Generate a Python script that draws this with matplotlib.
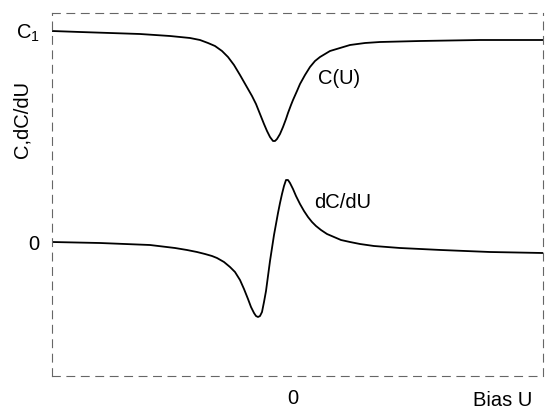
"""Capacitance C(U) and its derivative dC/dU versus bias voltage U."""
import matplotlib

matplotlib.use("Agg")
import matplotlib.pyplot as plt

# Bias U (arbitrary units) and C(U)
bias_c = [-2.41, -2.13, -1.83, -1.53, -1.23, -1.03, -0.93, -0.85, -0.78, -0.71,
          -0.65, -0.59, -0.53, -0.49, -0.45, -0.41, -0.37, -0.33, -0.29, -0.26,
          -0.23, -0.20, -0.18, -0.16, -0.13, -0.10, -0.07, -0.05, -0.02, 0.00,
          0.04, 0.07, 0.12, 0.17, 0.22, 0.27, 0.32, 0.37, 0.47, 0.57,
          0.72, 0.87, 1.27, 1.87, 2.50]
cap = [2.11, 2.10, 2.09, 2.08, 2.06, 2.04, 2.02, 1.99, 1.96, 1.91,
       1.85, 1.77, 1.67, 1.60, 1.53, 1.46, 1.38, 1.28, 1.18, 1.11,
       1.05, 1.01, 1.01, 1.03, 1.08, 1.15, 1.23, 1.29, 1.37, 1.42,
       1.51, 1.58, 1.67, 1.75, 1.81, 1.85, 1.88, 1.91, 1.94, 1.97,
       1.99, 2.00, 2.01, 2.02, 2.02]

# Bias U and dC/dU
bias_d = [-2.41, -1.93, -1.43, -1.18, -1.06, -0.96, -0.88, -0.81, -0.76, -0.69,
          -0.63, -0.58, -0.53, -0.49, -0.45, -0.42, -0.39, -0.37, -0.35, -0.33,
          -0.31, -0.29, -0.27, -0.25, -0.23, -0.21, -0.19, -0.17, -0.15, -0.13,
          -0.11, -0.09, -0.07, -0.05, -0.03, 0.00, 0.03, 0.07, 0.11, 0.15,
          0.19, 0.23, 0.28, 0.34, 0.41, 0.48, 0.57, 0.67, 0.81, 1.07,
          1.48, 1.97, 2.50]
dcap = [0.00, -0.01, -0.03, -0.06, -0.08, -0.10, -0.12, -0.14, -0.16, -0.20,
        -0.25, -0.30, -0.38, -0.47, -0.57, -0.65, -0.71, -0.74, -0.75, -0.74,
        -0.70, -0.60, -0.49, -0.34, -0.19, -0.06, 0.07, 0.18, 0.29, 0.39,
        0.48, 0.56, 0.62, 0.62, 0.59, 0.53, 0.46, 0.38, 0.31, 0.25,
        0.20, 0.16, 0.12, 0.08, 0.05, 0.02, 0.00, -0.02, -0.04, -0.06,
        -0.08, -0.10, -0.11]

y_ticks = [2.11, 0.0]
y_tick_labels = [r"C$_\mathregular{1}$", "0"]
x_ticks = [0.0]
x_tick_labels = ["0"]

FONT_SIZE = 14.5


def plot_capacitance(output_path: str = "out.png") -> None:
    plt.rcParams["font.family"] = ["Liberation Sans", "DejaVu Sans"]
    plt.rcParams["mathtext.fontset"] = "custom"
    plt.rcParams["mathtext.rm"] = "Liberation Sans"

    fig = plt.figure(figsize=(5.48, 4.12), dpi=100)
    # axes box in pixels: left 52, right 543, top 13, bottom 376
    ax = fig.add_axes([52 / 548, 1 - 376 / 412, 491 / 548, 363 / 412])

    ax.plot(bias_c, cap, color="black", linewidth=1.3)
    ax.plot(bias_d, dcap, color="black", linewidth=1.3)

    ax.set_xlim(-2.41, 2.50)
    ax.set_ylim(-1.34, 2.29)

    ax.set_xticks(x_ticks)
    ax.set_xticklabels(x_tick_labels, fontsize=FONT_SIZE)
    ax.set_yticks(y_ticks)
    ax.set_yticklabels(y_tick_labels, fontsize=FONT_SIZE)
    ax.tick_params(length=0, pad=9)

    # scanned-looking broken frame
    for spine in ax.spines.values():
        spine.set_linestyle((0, (7, 6)))
        spine.set_color("#666666")
        spine.set_linewidth(0.8)

    ax.text(0.25, 1.63, "C(U)", fontsize=FONT_SIZE, va="center", ha="left")
    ax.text(0.21, 0.39, "dC/dU", fontsize=FONT_SIZE, va="center", ha="left")

    fig.text(532 / 548, 1 - 400 / 412, "Bias U", fontsize=FONT_SIZE, ha="right", va="center")
    fig.text(22 / 548, 1 - 120 / 412, "C,dC/dU", fontsize=FONT_SIZE, rotation=90,
             ha="center", va="center")

    fig.savefig(output_path, dpi=100)
    print(f"Saved: {output_path}")


if __name__ == "__main__":
    plot_capacitance()
